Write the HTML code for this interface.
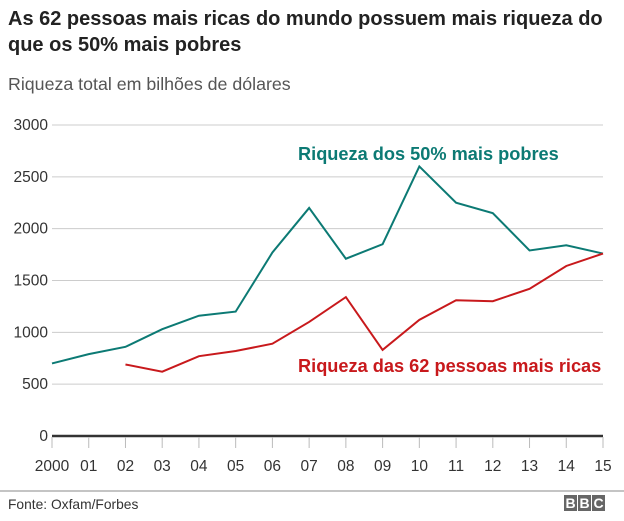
<!DOCTYPE html>
<html><head><meta charset="utf-8"><style>
body{margin:0;background:#fff;font-family:"Liberation Sans",sans-serif}
</style></head><body>
<svg width="624" height="516" xmlns="http://www.w3.org/2000/svg" font-family="Liberation Sans, sans-serif">
<text x="8" y="25" font-size="20" font-weight="bold" fill="#222">As 62 pessoas mais ricas do mundo possuem mais riqueza do</text>
<text x="8" y="51" font-size="20" font-weight="bold" fill="#222">que os 50% mais pobres</text>
<text x="8" y="90" font-size="17.8" fill="#555">Riqueza total em bilhões de dólares</text>
<g id="grid"></g><g id="series"></g>
<text x="298" y="160" font-size="18.2" font-weight="bold" fill="#0c7a74">Riqueza dos 50% mais pobres</text>
<text x="298" y="372" font-size="18.2" font-weight="bold" fill="#c8191c">Riqueza das 62 pessoas mais ricas</text>
<line x1="0" y1="491" x2="624" y2="491" stroke="#888" stroke-width="1"/>
<text x="8" y="509" font-size="13.8" fill="#333">Fonte: Oxfam/Forbes</text>
<g font-weight="bold" font-size="14" fill="#fff" text-anchor="middle">
<rect x="564" y="495" width="13" height="16" fill="#666"/><text x="570.5" y="508">B</text>
<rect x="578" y="495" width="13" height="16" fill="#666"/><text x="584.5" y="508">B</text>
<rect x="592" y="495" width="13" height="16" fill="#666"/><text x="598.5" y="508">C</text>
</g>
</svg>
<script>
const years=["2000","01","02","03","04","05","06","07","08","09","10","11","12","13","14","15"];
const yTicks=[0,500,1000,1500,2000,2500,3000];
const poorest=[700,790,860,1030,1160,1200,1770,2200,1710,1850,2600,2250,2150,1790,1840,1760];
const richest=[null,null,690,620,770,820,890,1100,1340,830,1120,1310,1300,1420,1640,1760];
const NS="http://www.w3.org/2000/svg";
const x=i=>52+i*(603-52)/(years.length-1);
const y=v=>436-v*(436-125)/3000;
function mk(t,a,p){const e=document.createElementNS(NS,t);for(const k in a)e.setAttribute(k,a[k]);p.appendChild(e);return e;}
const g=document.getElementById('grid'),s=document.getElementById('series');
yTicks.forEach(v=>{
 const l=mk('line',{x1:52,x2:603,y1:y(v),y2:y(v),stroke:v?'#ccc':'#333','stroke-width':v?1:2.5},g);
 
 
 const t=mk('text',{x:48,y:y(v)+5,'font-size':15.5,fill:'#333','text-anchor':'end'},g);t.textContent=v;
 
 
});
years.forEach((yr,i)=>{
 const l=mk('line',{x1:x(i),x2:x(i),y1:437,y2:448,stroke:'#bbb'},g);
 
 
 const t=mk('text',{x:x(i),y:471,'font-size':15.5,fill:'#333','text-anchor':'middle'},g);t.textContent=yr;
 
 
});
function line(d,c,n){const pts=d.map((v,i)=>v==null?null:x(i)+','+y(v)).filter(Boolean).join(' ');
 const p=mk('polyline',{points:pts,fill:'none',stroke:c,'stroke-width':2},s);
 
 }
line(poorest,'#0c7a74','line-poorest-50');
line(richest,'#c8191c','line-richest-62');
</script>
</body></html>
